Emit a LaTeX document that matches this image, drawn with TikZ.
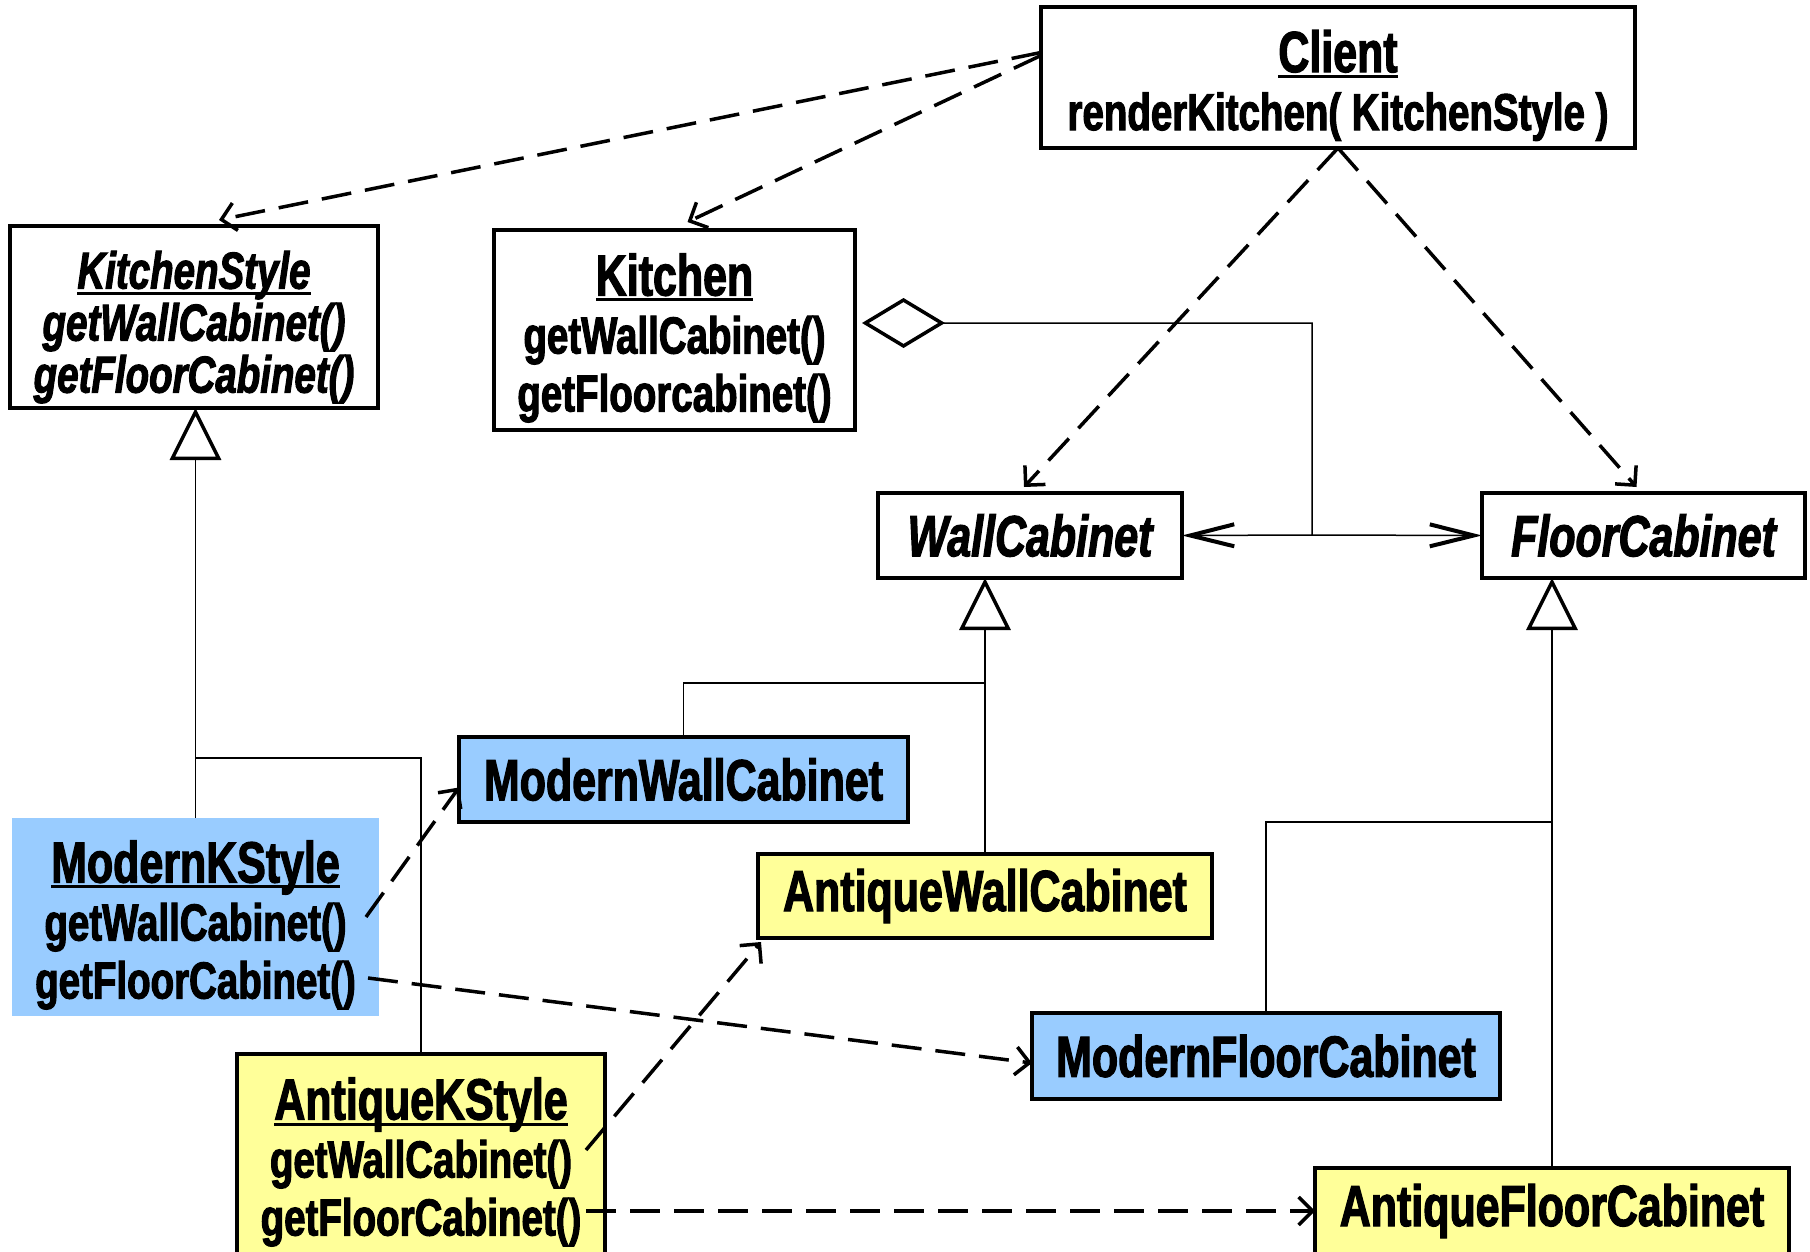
\documentclass[tikz,border=0pt]{standalone}
\usepackage{fontspec}
\setmainfont{Liberation Sans}[FakeStretch=0.74,BoldFeatures={FakeBold=2},BoldItalicFeatures={FakeBold=2}]
\usepackage{tikz}
\usetikzlibrary{arrows.meta,calc}
\definecolor{modblue}{HTML}{99CCFF}
\definecolor{antyel}{HTML}{FFFF99}
\newcommand{\uname}[1]{\leavevmode\rule{0pt}{58pt}\setbox0\hbox{#1}\rlap{\rule[-6pt]{\wd0}{3pt}}\box0}
\newcommand{\ttlfont}{\fontsize{58}{58}\selectfont}
\newcommand{\mthfont}{\fontsize{52}{58}\selectfont}
\tikzset{
  cls/.style={draw,line width=3.5pt,fill=#1,inner sep=0pt,outer sep=0pt,anchor=north west,align=center,font=\mthfont\bfseries},
  cls/.default={white},
  dep/.style={line width=3.5pt,dash pattern=on 30pt off 14pt,-{Straight Barb[length=14pt,width=28pt,line width=3.5pt]}},
  nav/.style={line width=1.5pt,-{Straight Barb[length=44pt,width=22pt,line width=4pt]}},
  agg/.style={line width=1.5pt,arrows={Diamond[open,length=83pt,width=50pt,line width=3.5pt]-Straight Barb[length=44pt,width=22pt,line width=4pt]}},
  inh/.style={line width=1.5pt,-{Triangle[open,length=52pt,width=51pt,line width=3.5pt]}},
  tree/.style={line width=1.5pt},
}
\begin{document}
\begin{tikzpicture}[x=1pt,y=-1pt]
 \useasboundingbox (0,0) rectangle (1810,1252);
 \clip (0,0) rectangle (1810,1252);
 % classes
 \node[cls,minimum width=594pt,minimum height=141pt] (client) at (1041,7) {{\ttlfont\uname{Client}}\\renderKitchen( KitchenStyle )};
 \node[cls,minimum width=368pt,minimum height=182pt,font=\fontsize{52}{52}\selectfont\bfseries\itshape] (ks) at (10,226) {\uname{KitchenStyle}\\getWallCabinet()\\getFloorCabinet()};
 \node[cls,minimum width=361pt,minimum height=200pt] (kit) at (494,230) {{\ttlfont\uname{Kitchen}}\\getWallCabinet()\\getFloorcabinet()};
 \node[cls,minimum width=304pt,minimum height=85pt,font=\ttlfont\bfseries\itshape] (wall) at (878,493) {WallCabinet};
 \node[cls,minimum width=323pt,minimum height=85pt,font=\ttlfont\bfseries\itshape] (floor) at (1482,493) {FloorCabinet};
 \node[cls=modblue,minimum width=449pt,minimum height=85pt,font=\ttlfont\bfseries] (mwc) at (459,737) {ModernWallCabinet};
 \node[cls=antyel,minimum width=454pt,minimum height=84pt,font=\ttlfont\bfseries] (awc) at (758,854) {AntiqueWallCabinet};
 \node[cls=modblue,minimum width=468pt,minimum height=86pt,font=\ttlfont\bfseries] (mfc) at (1032,1013) {ModernFloorCabinet};
 \node[cls=antyel,minimum width=474pt,minimum height=86pt,font=\ttlfont\bfseries] (afc) at (1315,1168) {AntiqueFloorCabinet};
 \node[cls=modblue,draw=none,minimum width=367pt,minimum height=198pt] (mks) at (12,818) {{\ttlfont\uname{ModernKStyle}}\\getWallCabinet()\\getFloorCabinet()};
 \node[cls=antyel,minimum width=368pt,minimum height=200pt] (aks) at (237,1054) {{\ttlfont\uname{AntiqueKStyle}}\\getWallCabinet()\\getFloorCabinet()};
 % client uses
 \draw[dep] ([yshift=25pt]client.west) -- ([shift={(25pt,6pt)}]ks.north);
 \draw[dep] ([yshift=22pt]client.west) -- ([shift={(13pt,8pt)}]kit.north);
 \draw[dep] (client.south) -- ([shift={(-6pt,6pt)}]wall.north);
 \draw[dep] (client.south) -- ([shift={(-7pt,6pt)}]floor.north);
 % kitchen holds cabinets
 \coordinate (aj) at (1312,535);
 \draw[agg] ([shift={(7pt,7pt)}]kit.east) -| (aj) -- (wall.east);
 \draw[nav] (aj) -- (floor.west);
 % inheritance
 \draw[inh] (mks.north) -- (mks.north |- ks.south);
 \draw[tree] (aks.north) -- ++(0,-296) -| (mks.north);
 \draw[inh] (awc.north) -- (awc.north |- wall.south);
 \draw[tree] (mwc.north) -- ++(0,-54) -| (awc.north);
 \draw[inh] (afc.north) -- (afc.north |- floor.south);
 \draw[tree] (mfc.north) -- ++(0,-191) -| (afc.north);
 % factories create
 \draw[dep] ([xshift=-13pt]mks.east) -- ([yshift=-8pt]mwc.west);
 \draw[dep] ([shift={(-11pt,-61pt)}]mks.east) -- ([yshift=-7pt]mfc.west);
 \draw[dep] ([shift={(-19pt,4pt)}]aks.east) -- ([shift={(3pt,-4pt)}]awc.south west);
 \draw[dep] ([shift={(-19pt,-57pt)}]aks.east) -- (afc.west);
\end{tikzpicture}
\end{document}
